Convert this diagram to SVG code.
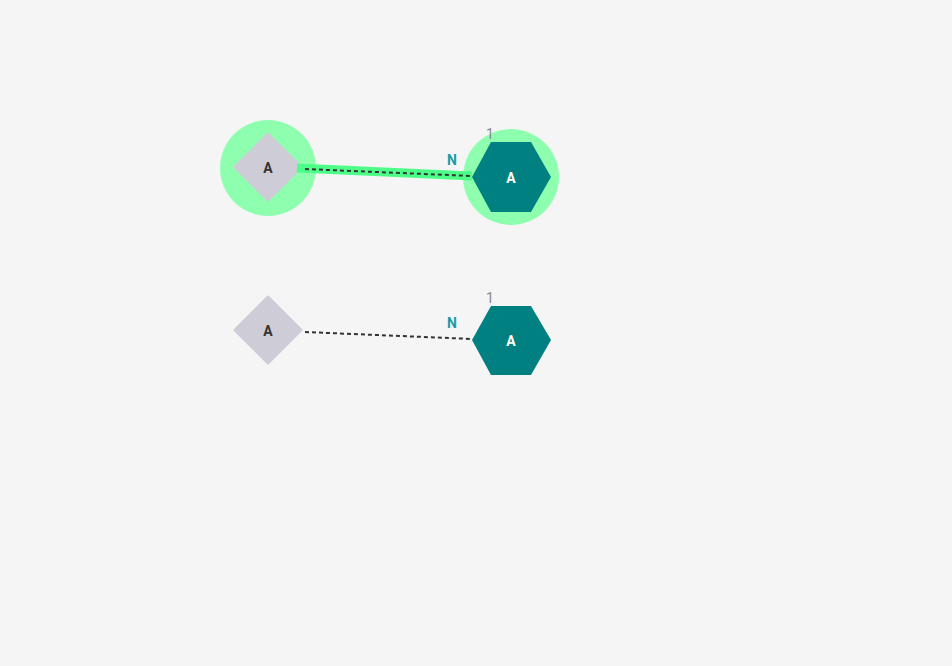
<svg xmlns="http://www.w3.org/2000/svg" width="952" height="666" viewBox="0 0 952 666">
<style>
.halo{fill:#8effaf}
.dia{fill:#cdccd7;stroke:#cdccd7;stroke-width:3;stroke-linejoin:round}
.hex{fill:#008080}
.lbl{font-family:"Roboto","Liberation Sans",sans-serif;font-size:14px;font-weight:bold;text-anchor:middle}
.edge{stroke:#333;stroke-width:2;stroke-dasharray:4 3;fill:none}
.hl{stroke:#4dff88;stroke-width:9;fill:none}
.n{font-family:"Roboto","Liberation Sans",sans-serif;font-size:14px;font-weight:bold;fill:#1a9ba6;text-anchor:middle}
.one{font-family:"Roboto","Liberation Sans",sans-serif;font-size:14px;fill:#888;text-anchor:middle}
</style>
<rect width="952" height="666" fill="#f5f5f5"/>
<g id="node-a1">
<circle class="halo" cx="268" cy="168" r="48"/>
<polygon class="dia" points="268,134 301,167 268,200 235,167"/>
<text class="lbl" x="268" y="173" fill="#333">A</text>
</g>
<g id="node-a2">
<circle class="halo" cx="511" cy="177" r="48"/>
<polygon class="hex" points="472,177 491,142 531,142 551,177 531,212 491,212"/>
<text class="lbl" x="511" y="183" fill="#fff">A</text>
</g>
<g id="node-a3">
<polygon class="dia" points="268,297 301,330 268,363 235,330"/>
<text class="lbl" x="268" y="336" fill="#333">A</text>
</g>
<g id="node-a4">
<polygon class="hex" points="472,340 491,306 531,306 551,340 531,375 491,375"/>
<text class="lbl" x="511" y="346" fill="#fff">A</text>
</g>
<g id="connectors">
<line class="hl" x1="297" y1="168" x2="472" y2="176"/>
<line class="edge" x1="305" y1="169" x2="472" y2="176"/>
<line class="edge" x1="305" y1="332" x2="472" y2="339"/>
<text class="n" x="452" y="165">N</text>
<text class="one" x="490" y="139">1</text>
<text class="n" x="452" y="328">N</text>
<text class="one" x="490" y="303">1</text>
</g>
</svg>
